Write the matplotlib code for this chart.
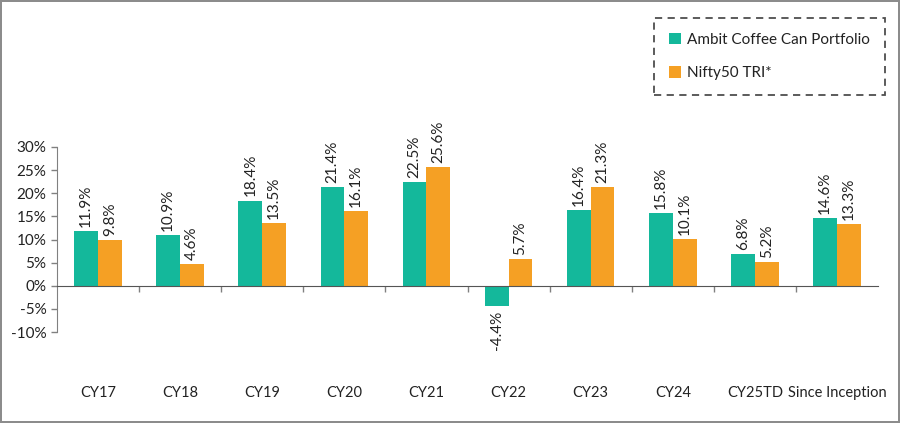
import matplotlib
matplotlib.use("Agg")
import matplotlib.pyplot as plt
import numpy as np

categories = ["CY17", "CY18", "CY19", "CY20", "CY21", "CY22", "CY23", "CY24", "CY25TD", "Since Inception"]
ambit = [11.9, 10.9, 18.4, 21.4, 22.5, -4.4, 16.4, 15.8, 6.8, 14.6]
nifty = [9.8, 4.6, 13.5, 16.1, 25.6, 5.7, 21.3, 10.1, 5.2, 13.3]
series_names = ["Ambit Coffee Can Portfolio", "Nifty50 TRI*"]
yticks = [-10, -5, 0, 5, 10, 15, 20, 25, 30]

plt.rcParams['font.family'] = ['Lato', 'DejaVu Sans']
teal = "#14B89B"
orange = "#F5A024"
txt = "#222222"
axis_col = "#808080"

fig = plt.figure(figsize=(9, 4.23), dpi=100)
fig.patch.set_edgecolor("#8c8c8c")
fig.patch.set_linewidth(1.5)
ax = fig.add_axes([0.0633, 0.2151, 0.9123, 0.4374])

x = np.arange(len(categories))
w = 0.29
b1 = ax.bar(x - w/2, ambit, w, color=teal, label=series_names[0])
b2 = ax.bar(x + w/2, nifty, w, color=orange, label=series_names[1])

for bars, vals in ((b1, ambit), (b2, nifty)):
    ax.bar_label(bars, labels=[f"{v:.1f}%" for v in vals], rotation=90,
                 padding=3, fontsize=11, color=txt)

ax.set_xlim(-0.5, len(categories) - 0.5)
ax.set_ylim(-10, 30)
ax.set_yticks(yticks)
ax.set_yticklabels([f"{t}%" for t in yticks], fontsize=11, color=txt)

for s in ["top", "right"]:
    ax.spines[s].set_visible(False)
ax.spines["left"].set_color(axis_col)
ax.spines["bottom"].set_position(("data", 0))
ax.spines["bottom"].set_color("#555555")
ax.tick_params(axis="y", colors=axis_col, labelcolor=txt, length=4, width=1)

ax.set_xticks(x)
ax.set_xticklabels(categories, fontsize=10.5, color=txt)
ax.set_xticks(np.arange(0.5, len(categories) - 0.5, 1), minor=True)
ax.tick_params(axis="x", which="major", length=0, pad=72)
ax.tick_params(axis="x", which="minor", length=4, color=axis_col, width=1)

leg = fig.legend(loc="upper right", bbox_to_anchor=(0.983, 0.957),
                 fontsize=11, frameon=True, fancybox=False,
                 handlelength=0.8, handleheight=0.8, handletextpad=0.4,
                 labelspacing=1.25, borderpad=0.95, borderaxespad=0)
frame = leg.get_frame()
frame.set_edgecolor("#222222")
frame.set_linestyle((0, (4, 3)))
frame.set_linewidth(1.3)
for t in leg.get_texts():
    t.set_color(txt)

fig.savefig("out.png", dpi=100)
